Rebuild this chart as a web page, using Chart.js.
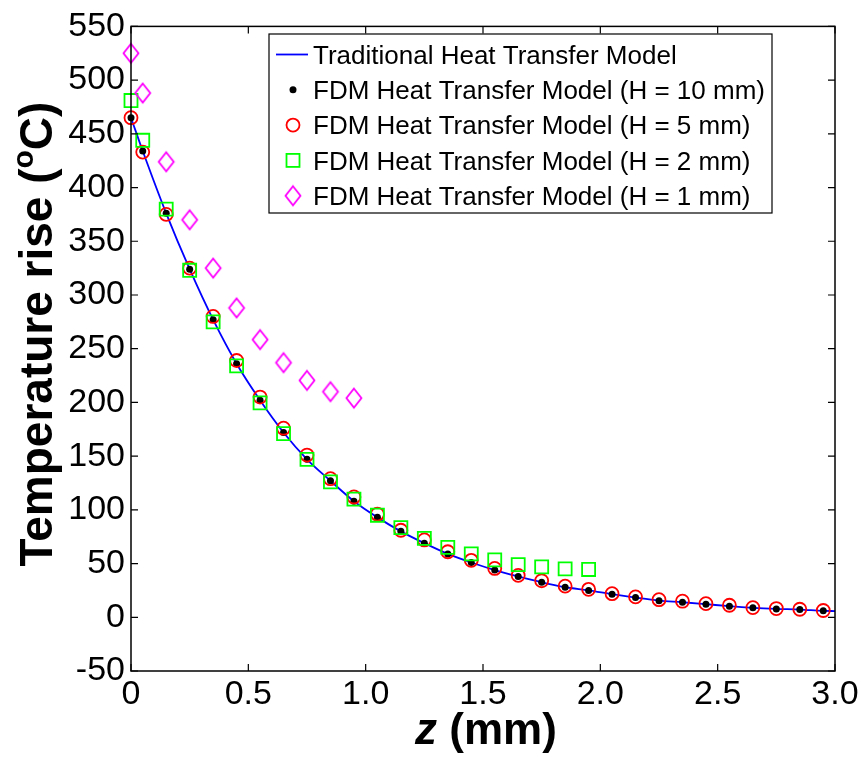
<!DOCTYPE html>
<html><head><meta charset="utf-8">
<script src="https://cdn.jsdelivr.net/npm/chart.js@4/dist/chart.umd.min.js"></script>
<style>html,body{margin:0;padding:0;background:#fff;} #wrap{width:864px;height:757px;position:relative}</style>
</head><body><div id="wrap"><canvas id="c" width="864" height="757"></canvas></div>
<script>
// ---- data ----
const tradZ = [0,0.05,0.15,0.25,0.35,0.45,0.55,0.65,0.75,0.85,0.95,1.05,1.15,1.25,1.35,1.45,1.55,1.65,1.75,1.85,1.95,2.05,2.15,2.25,2.35,2.45,2.55,2.65,2.75,2.85,2.95,3.0];
const tradT = [465,434,376,324,277,236,202,172,147,127,108,93,80,69,59,51,44,38,32.5,28,25,21.5,18.3,15.5,14,12.2,10.3,8.8,7.8,7.2,6,5.8];
const zH10 = [0,0.05,0.15,0.25,0.35,0.45,0.55,0.65,0.75,0.85,0.95,1.05,1.15,1.25,1.35,1.45,1.55,1.65,1.75,1.85,1.95,2.05,2.15,2.25,2.35,2.45,2.55,2.65,2.75,2.85,2.95];
const tH10 = [465,434,376,324,277,236,202,172,147,127,108,93,80,69,59,51,44,38,32.5,28,25,21.5,18.3,15.5,14,12.2,10.3,8.8,7.8,7.2,6];
const zH5 = [0,0.05,0.15,0.25,0.35,0.45,0.55,0.65,0.75,0.85,0.95,1.05,1.15,1.25,1.35,1.45,1.55,1.65,1.75,1.85,1.95,2.05,2.15,2.25,2.35,2.45,2.55,2.65,2.75,2.85,2.95];
const tH5 = [465,433,375,325,280,239,205,176,151,129,112,96,81,72,61,53,45.5,39,34,29,26,22,19,16.4,15,12.7,11.2,9,8.1,7.5,6.3];
const zH2 = [0,0.05,0.15,0.25,0.35,0.45,0.55,0.65,0.75,0.85,0.95,1.05,1.15,1.25,1.35,1.45,1.55,1.65,1.75,1.85,1.95];
const tH2 = [481,444,380,323,275,234,199.5,171,147,126,110,95,83.5,73.5,65,59,53.5,49,47,45,44.5];
const zH1 = [0,0.05,0.15,0.25,0.35,0.45,0.55,0.65,0.75,0.85,0.95];
const tH1 = [525,488,424,370,325,288,258.5,237,220.5,210,204];
const seriesLabels = ['Traditional Heat Transfer Model','FDM Heat Transfer Model (H = 10 mm)','FDM Heat Transfer Model (H = 5 mm)','FDM Heat Transfer Model (H = 2 mm)','FDM Heat Transfer Model (H = 1 mm)'];
const xTickLabels = ['0','0.5','1.0','1.5','2.0','2.5','3.0'];
const yTickLabels = ['-50','0','50','100','150','200','250','300','350','400','450','500','550'];
const xTitle = ['z',' (mm)'];
const yTitle = ['Temperature rise (','o','C)'];

const FONT = '"Liberation Sans", Arial, Helvetica, sans-serif';
const pts = (xs, ys) => xs.map((x, i) => ({x: x, y: ys[i]}));

function diamondImg(){
  const c = document.createElement('canvas'); c.width = 20; c.height = 24;
  const g = c.getContext('2d');
  g.strokeStyle = '#ff00ff'; g.lineWidth = 1.8;
  g.beginPath(); g.moveTo(10,2.5); g.lineTo(17.5,12); g.lineTo(10,21.5); g.lineTo(2.5,12); g.closePath(); g.stroke();
  return c;
}
const diamond = diamondImg();

const boxPlugin = {
  id: 'boxPlugin',
  afterDraw(chart){
    const ctx = chart.ctx, a = chart.chartArea;
    const xs = chart.scales.x, ys = chart.scales.y;
    ctx.save();
    ctx.strokeStyle = '#000'; ctx.lineWidth = 1.5;
    ctx.strokeRect(a.left, a.top, a.right - a.left, a.bottom - a.top);
    ctx.lineWidth = 1.2;
    ctx.beginPath();
    const TL = 7;
    xs.ticks.forEach(t => {
      const px = xs.getPixelForValue(t.value);
      ctx.moveTo(px, a.bottom); ctx.lineTo(px, a.bottom - TL);
      ctx.moveTo(px, a.top); ctx.lineTo(px, a.top + TL);
    });
    ys.ticks.forEach(t => {
      const py = ys.getPixelForValue(t.value);
      ctx.moveTo(a.left, py); ctx.lineTo(a.left + TL, py);
      ctx.moveTo(a.right, py); ctx.lineTo(a.right - TL, py);
    });
    ctx.stroke();

    // x title
    ctx.fillStyle = '#000';
    ctx.textBaseline = 'alphabetic';
    const fI = 'italic bold 44px ' + FONT, fB = 'bold 44px ' + FONT;
    ctx.font = fI; const w1 = ctx.measureText(xTitle[0]).width;
    ctx.font = fB; const w2 = ctx.measureText(xTitle[1]).width;
    const cx = (a.left + a.right) / 2 + 3;
    let sx = cx - (w1 + w2) / 2;
    ctx.font = fI; ctx.fillText(xTitle[0], sx, 744);
    ctx.font = fB; ctx.fillText(xTitle[1], sx + w1, 744);

    // y title
    ctx.save();
    ctx.translate(52, 334);
    ctx.rotate(-Math.PI / 2);
    const fT = 'bold 46px ' + FONT, fS = 'bold 30px ' + FONT;
    ctx.font = fT; const a1 = ctx.measureText(yTitle[0]).width, a3 = ctx.measureText(yTitle[2]).width;
    ctx.font = fS; const a2 = ctx.measureText(yTitle[1]).width;
    let tx = -(a1 + a2 + a3) / 2;
    ctx.font = fT; ctx.fillText(yTitle[0], tx, 0);
    ctx.font = fS; ctx.fillText(yTitle[1], tx + a1, -19);
    ctx.font = fT; ctx.fillText(yTitle[2], tx + a1 + a2, 0);
    ctx.restore();

    // legend
    const L = 269, T = 34, R = 772, B = 213;
    ctx.fillStyle = '#fff'; ctx.fillRect(L, T, R - L, B - T);
    ctx.strokeStyle = '#000'; ctx.lineWidth = 1.2; ctx.strokeRect(L, T, R - L, B - T);
    ctx.font = '26px ' + FONT; ctx.fillStyle = '#000'; ctx.textBaseline = 'alphabetic';
    const rows = [54.5, 89.8, 125.1, 160.4, 195.7];
    const mx = 293;
    rows.forEach((cy, i) => {
      ctx.fillStyle = '#000';
      ctx.fillText(seriesLabels[i], 313, cy + 9.3);
      ctx.save();
      if (i === 0) {
        ctx.strokeStyle = '#0000ff'; ctx.lineWidth = 1.8;
        ctx.beginPath(); ctx.moveTo(276, cy); ctx.lineTo(308, cy); ctx.stroke();
      } else if (i === 1) {
        ctx.fillStyle = '#000'; ctx.beginPath(); ctx.arc(mx, cy, 3.5, 0, Math.PI * 2); ctx.fill();
      } else if (i === 2) {
        ctx.strokeStyle = '#ff0000'; ctx.lineWidth = 1.8; ctx.beginPath(); ctx.arc(mx, cy, 6.5, 0, Math.PI * 2); ctx.stroke();
      } else if (i === 3) {
        ctx.strokeStyle = '#00ff00'; ctx.lineWidth = 1.8; ctx.strokeRect(mx - 6.5, cy - 6.5, 13, 13);
      } else {
        ctx.drawImage(diamond, mx - 10, cy - 12);
      }
      ctx.restore();
    });
    ctx.restore();
  }
};

new Chart(document.getElementById('c'), {
  type: 'scatter',
  data: {
    datasets: [
      { label: seriesLabels[0], data: pts(tradZ, tradT), showLine: true, borderColor: '#0000ff', borderWidth: 1.8, pointRadius: 0, cubicInterpolationMode: 'monotone', fill: false, order: 5, clip: false },
      { label: seriesLabels[1], data: pts(zH10, tH10), pointStyle: 'circle', pointRadius: 3.5, backgroundColor: '#000', borderColor: '#000', borderWidth: 0, order: 4, clip: false },
      { label: seriesLabels[2], data: pts(zH5, tH5), pointStyle: 'circle', pointRadius: 6.5, backgroundColor: 'rgba(0,0,0,0)', borderColor: '#ff0000', borderWidth: 1.8, order: 3, clip: false },
      { label: seriesLabels[3], data: pts(zH2, tH2), pointStyle: 'rect', pointRadius: 9.2, backgroundColor: 'rgba(0,0,0,0)', borderColor: '#00ff00', borderWidth: 1.8, order: 2, clip: false },
      { label: seriesLabels[4], data: pts(zH1, tH1), pointStyle: diamond, pointRadius: 9, backgroundColor: 'rgba(0,0,0,0)', borderColor: '#ff00ff', borderWidth: 1.8, order: 1, clip: false }
    ]
  },
  options: {
    responsive: false, animation: false, devicePixelRatio: 1,
    layout: { padding: { top: 20, right: 29, left: 0, bottom: 0 } },
    plugins: { legend: { display: false }, tooltip: { enabled: false } },
    scales: {
      x: {
        type: 'linear', min: 0, max: 3,
        afterFit: s => { s.height = 86; },
        grid: { display: false, drawTicks: false },
        border: { display: false },
        ticks: { stepSize: 0.5, padding: 3, color: '#000', font: { family: FONT, size: 34 }, maxRotation: 0, autoSkip: false,
          callback: (v, i) => xTickLabels[i] }
      },
      y: {
        type: 'linear', min: -50, max: 550,
        afterFit: s => { s.width = 131; },
        grid: { display: false, drawTicks: false },
        border: { display: false },
        ticks: { stepSize: 50, padding: 6, color: '#000', font: { family: FONT, size: 34 }, autoSkip: false,
          callback: (v, i) => yTickLabels[i] }
      }
    }
  },
  plugins: [boxPlugin]
});
</script>
</body></html>
